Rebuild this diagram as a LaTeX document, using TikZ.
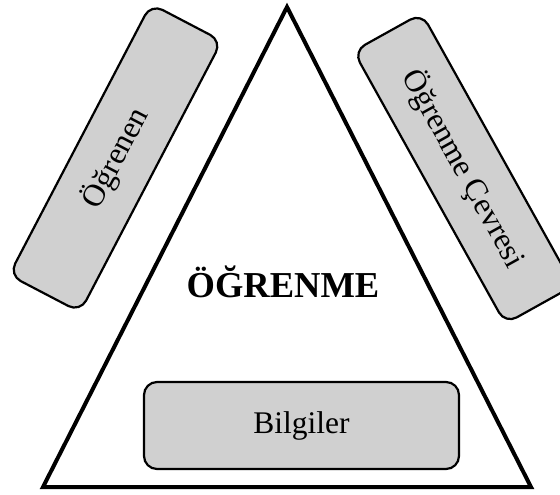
\documentclass[tikz,border=0pt]{standalone}
\usepackage{fontspec}
\setmainfont{Liberation Serif}
\definecolor{boxgray}{RGB}{208,208,208}
\begin{document}
\begin{tikzpicture}[x=1pt,y=-1pt,
  sidebox/.style={draw=black, line width=2.2pt, fill=boxgray, rounded corners=13pt,
    inner sep=0pt, font=\fontsize{31.5}{36}\selectfont},
  tri/.style={draw=black, line width=4pt, line join=miter}]
  \useasboundingbox (0,0) rectangle (560,495);
  \clip (0,0) rectangle (560,495);
  % main triangle
  \coordinate (apex) at (287,7);
  \coordinate (bl) at (43,487);
  \coordinate (br) at (531,487);
  \draw[tri] (apex) -- (br) -- (bl) -- cycle;
  % title
  \node[font=\fontsize{36.5}{40}\selectfont\bfseries] (title) at (283,282) {ÖĞRENME};
  % the three components
  \node[sidebox, rotate=62.4, minimum width=306pt, minimum height=80pt] (learner) at (115.5,158) {Öğrenen};
  \node[sidebox, rotate=-60.9, minimum width=312pt, minimum height=78pt] (env) at (463.5,168.5) {Öğrenme Çevresi};
  \node[sidebox, minimum width=315pt, minimum height=87pt] (know) at (301.5,425.5) {Bilgiler};
\end{tikzpicture}
\end{document}
